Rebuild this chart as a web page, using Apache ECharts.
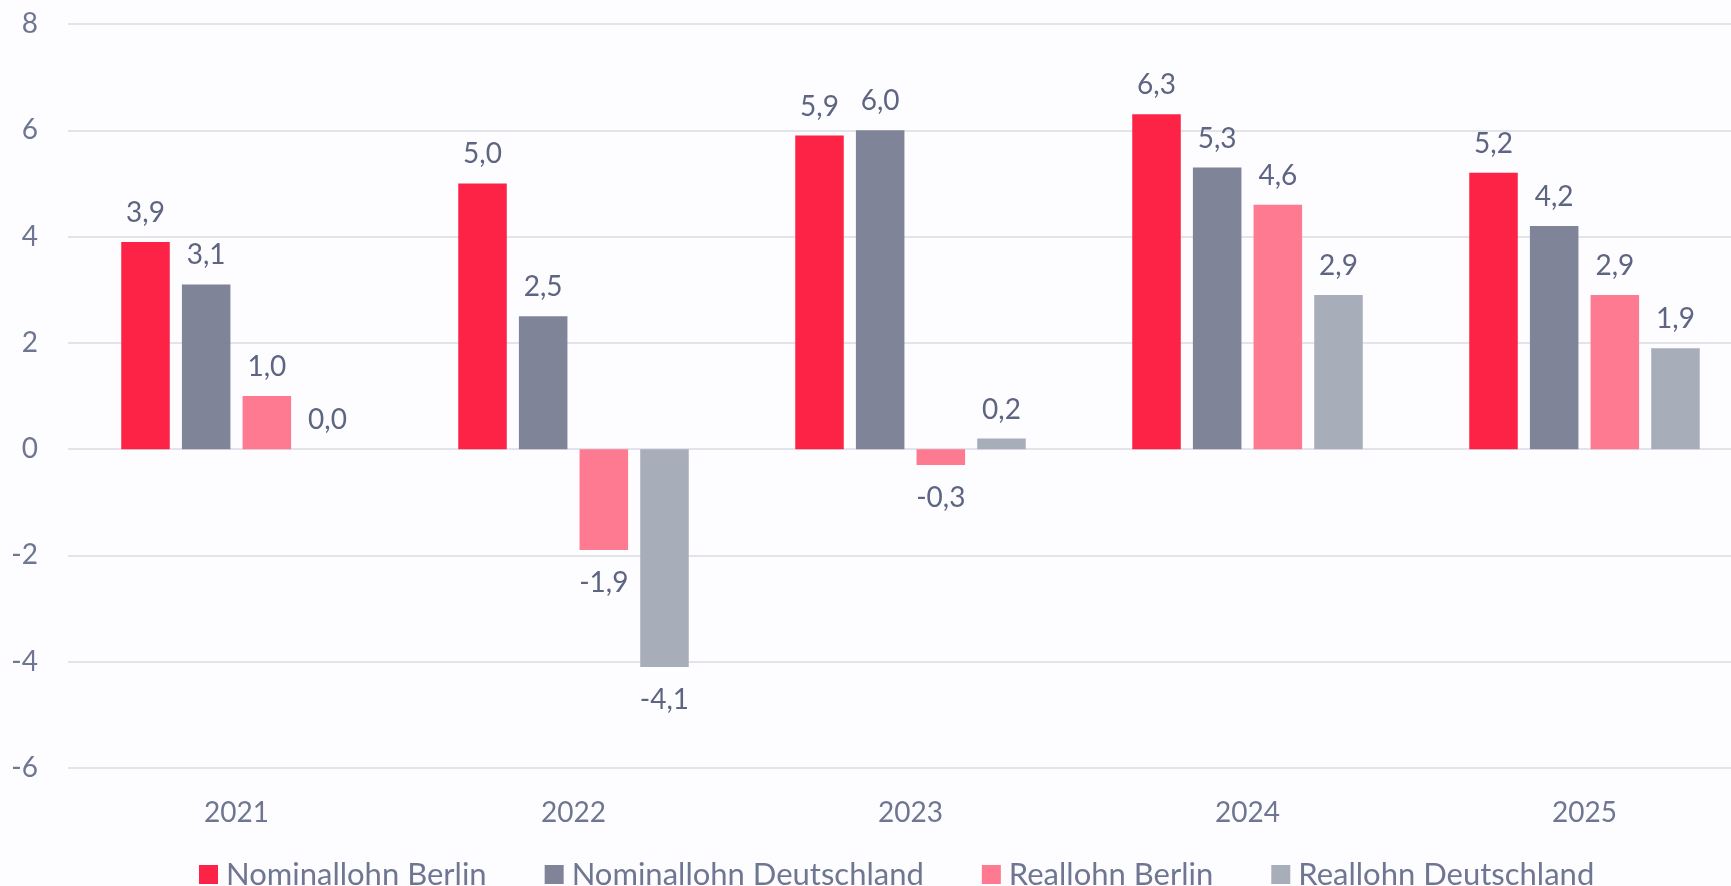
<!DOCTYPE html>
<html>
<head>
<meta charset="utf-8">
<script src="https://cdn.jsdelivr.net/npm/echarts@6/dist/echarts.min.js"></script>
<style>
    html, body { margin: 0; padding: 0; background: #fdfdff; overflow: hidden; }
    #lohn { width: 1753px; height: 886px; }
</style>
</head>
<body>
<div id="lohn"></div>
<script>
var years = ['2021', '2022', '2023', '2024', '2025'];
var seriesNames = ['Nominallohn Berlin', 'Nominallohn Deutschland', 'Reallohn Berlin', 'Reallohn Deutschland'];
var nominalBerlin = [3.9, 5.0, 5.9, 6.3, 5.2];
var nominalDeutschland = [3.1, 2.5, 6.0, 5.3, 4.2];
var realBerlin = [1.0, -1.9, -0.3, 4.6, 2.9];
var realDeutschland = [0.0, -4.1, 0.2, 2.9, 1.9];
var colors = ['#fc2347', '#7f8498', '#fd7a90', '#a8adba'];

var textColor = '#6f7692';
var labelColor = '#5e6582';
var fontName = 'Lato, "Noto Sans", sans-serif';

function makeData(arr) {
    // negative bars get the label below the bar end
    return arr.map(function (v) {
        return {
            value: v,
            label: v < 0 ? { position: 'bottom', distance: 19 } : { position: 'top', distance: 15 }
        };
    });
}

var myChart = echarts.init(document.getElementById('lohn'));
var allValues = [nominalBerlin, nominalDeutschland, realBerlin, realDeutschland];
var series = [];
for (var i = 0; i < seriesNames.length; i++) {
    series.push({
        name: seriesNames[i],
        type: 'bar',
        barWidth: '14.4%',
        barGap: '25%',
        itemStyle: { color: colors[i] },
        label: {
            show: true,
            color: labelColor,
            fontSize: 28,
            fontFamily: fontName,
            formatter: function (p) {
                return p.value.toFixed(1).replace('.', ',');
            }
        },
        data: makeData(allValues[i])
    });
}

var option = {
    backgroundColor: '#fdfdff',
    animation: false,
    legend: {
        left: 194,
        bottom: -9,
        itemWidth: 19,
        itemHeight: 19,
        itemGap: 58,
        icon: 'rect',
        textStyle: { color: textColor, fontSize: 31, fontFamily: fontName, padding: [0, 0, 0, 3] },
        data: seriesNames
    },
    grid: {
        left: 68,
        top: 24,
        right: 0,
        bottom: 118
    },
    xAxis: {
        type: 'category',
        data: years,
        axisLine: { show: false },
        axisTick: { show: false },
        axisLabel: { color: textColor, fontSize: 28, fontFamily: fontName, margin: 31 }
    },
    yAxis: {
        type: 'value',
        min: -6,
        max: 8,
        interval: 2,
        axisLine: { show: false },
        axisTick: { show: false },
        axisLabel: { color: textColor, fontSize: 28, fontFamily: fontName, margin: 30 },
        splitLine: { lineStyle: { color: '#e3e3ea', width: 2 } }
    },
    series: series
};
myChart.setOption(option);
window.addEventListener('resize', function () { myChart.resize(); });
</script>
</body>
</html>
